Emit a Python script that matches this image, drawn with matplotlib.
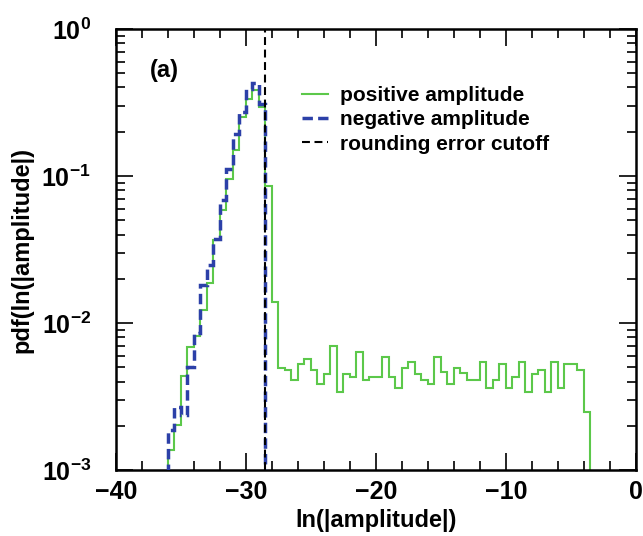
import numpy as np
import matplotlib
matplotlib.use('Agg')
import matplotlib.pyplot as plt
from matplotlib.ticker import MultipleLocator, LogLocator, FuncFormatter, NullFormatter

plt.rcParams['font.family'] = ['Liberation Sans', 'DejaVu Sans']
plt.rcParams['font.weight'] = 'bold'
plt.rcParams['mathtext.fontset'] = 'custom'
plt.rcParams['mathtext.rm'] = 'Liberation Sans:bold'
plt.rcParams['mathtext.bf'] = 'Liberation Sans:bold'
plt.rcParams['mathtext.default'] = 'bf'

# histogram data, bin width 0.5 in ln(|amplitude|)
bin_width = 0.5
pos_start = -36.0
pos_pdf = [1.36e-3, 2.01e-3, 4.34e-3, 6.87e-3, 8.1e-3, 0.0123, 0.0187, 0.0366,
           0.0585, 0.096, 0.150, 0.252, 0.336, 0.387, 0.295, 0.085, 0.0139,
           4.97e-3, 4.77e-3, 4.07e-3, 5.24e-3, 5.66e-3, 4.77e-3, 3.83e-3, 4.53e-3,
           7.02e-3, 3.38e-3, 4.53e-3, 4.29e-3, 6.35e-3, 4.07e-3, 4.29e-3, 4.29e-3,
           5.87e-3, 4.29e-3, 3.61e-3, 4.97e-3, 5.43e-3, 4.53e-3, 4.07e-3, 3.83e-3,
           5.87e-3, 4.64e-3, 3.83e-3, 4.97e-3, 4.57e-3, 4.07e-3, 4.07e-3, 5.43e-3,
           3.61e-3, 4.07e-3, 5.24e-3, 3.61e-3, 4.29e-3, 5.43e-3, 3.38e-3, 4.53e-3,
           4.77e-3, 3.38e-3, 5.43e-3, 3.61e-3, 5.24e-3, 5.24e-3, 4.77e-3, 2.48e-3]
neg_start = -36.0
neg_pdf = [1.86e-3, 2.68e-3, 2.36e-3, 5.02e-3, 8.55e-3, 0.018, 0.0247, 0.0371,
           0.0684, 0.112, 0.192, 0.272, 0.393, 0.43, 0.31]
cutoff = -28.5

pos_edges = pos_start + bin_width * np.arange(len(pos_pdf) + 1)
neg_edges = neg_start + bin_width * np.arange(len(neg_pdf) + 1)

fig = plt.figure(figsize=(6.43, 5.36), dpi=100)
ax = fig.add_axes([0.1804, 0.1231, 0.8087, 0.8228])

ax.stairs(pos_pdf, pos_edges, baseline=1e-5, color='#5cc84a', lw=1.5,
          label='positive amplitude', zorder=2)
ax.stairs(neg_pdf, neg_edges, baseline=1e-5, color='#2c40a8', lw=2.5,
          linestyle=(0, (3, 1.5)), label='negative amplitude', zorder=3)
ax.axvline(cutoff, color='black', lw=1.5, linestyle=(0, (3.8, 2.2)),
           label='rounding error cutoff', zorder=4)

ax.set_yscale('log')
ax.set_xlim(-40, 0)
ax.set_ylim(1e-3, 1)

ax.xaxis.set_major_locator(MultipleLocator(10))
ax.xaxis.set_minor_locator(MultipleLocator(2))
ax.yaxis.set_major_locator(LogLocator(base=10))
ax.yaxis.set_minor_locator(LogLocator(base=10, subs=np.arange(2, 10)))
ax.yaxis.set_minor_formatter(NullFormatter())
ax.yaxis.set_major_formatter(FuncFormatter(lambda v, p: r'$\mathbf{10^{%d}}$' % round(np.log10(v))))

ax.tick_params(which='both', direction='in', top=True, right=True, labelsize=18, width=1.2)
ax.tick_params(axis='x', pad=7)
ax.tick_params(axis='y', pad=18)
ax.tick_params(which='major', length=12)
ax.tick_params(which='minor', length=6.5)
for s in ax.spines.values():
    s.set_linewidth(1.8)
for t in ax.get_xticklabels() + ax.get_yticklabels():
    t.set_fontweight('bold')

ax.set_xlabel('ln(|amplitude|)', fontsize=17, fontweight='bold', labelpad=4)
ax.set_ylabel('pdf(ln(|amplitude|)', fontsize=17, fontweight='bold', labelpad=6)

ax.text(0.065, 0.907, '(a)', transform=ax.transAxes, fontsize=17, fontweight='bold', va='center')

leg = ax.legend(loc='upper left', bbox_to_anchor=(0.3217, 0.913), frameon=False,
                fontsize=15, handlelength=1.25, labelspacing=0.25, handletextpad=0.58)
for t in leg.get_texts():
    t.set_fontweight('bold')

fig.savefig('out.png', dpi=100)
